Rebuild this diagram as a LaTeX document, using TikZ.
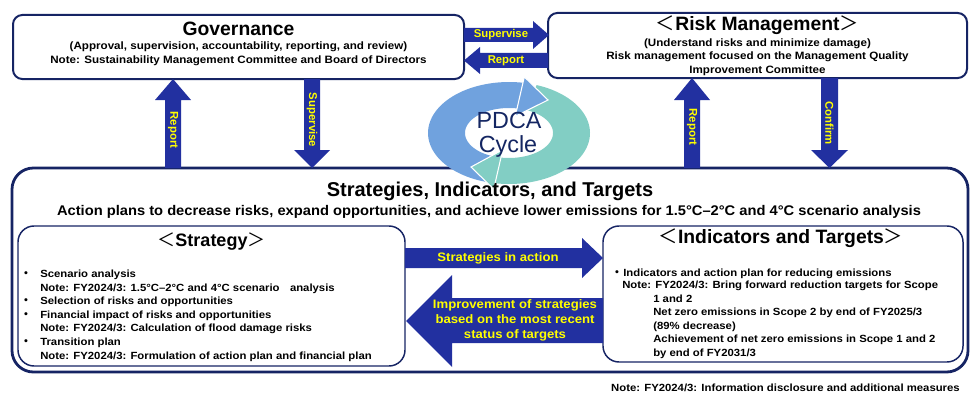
\documentclass[tikz,border=0pt]{standalone}
\usepackage{fontspec}
\setmainfont{Liberation Sans}
\newfontfamily\cjk{Noto Sans CJK JP}
\newfontfamily\bodyfont[FakeStretch=1.09]{Liberation Sans}
\newfontfamily\midfont[FakeStretch=1.07]{Liberation Sans}
\newfontfamily\subfont[FakeStretch=1.05]{Liberation Sans}
\usetikzlibrary{calc}
\definecolor{navy}{RGB}{22,36,100}
\definecolor{arrowblue}{RGB}{34,48,160}
\definecolor{arrowtext}{RGB}{255,255,0}
\definecolor{pdcablue}{RGB}{112,162,222}
\definecolor{pdcateal}{RGB}{130,206,196}
\definecolor{pdcatext}{RGB}{20,38,98}
\newcommand{\lbr}{{\cjk\mdseries ＜}}
\newcommand{\rbr}{{\cjk\mdseries ＞}}
\newcommand{\fs}[1]{\fontsize{#1}{#1}\selectfont}
\tikzset{
  outerbox/.style={draw=navy, line width=1.5pt, rounded corners=7pt, fill=white},
  bigbox/.style={draw=navy, line width=2.1pt, rounded corners=16pt, fill=white},
  innerbox/.style={draw=navy, line width=1.1pt, rounded corners=12pt, fill=white},
  blockarrow/.style={fill=arrowblue, draw=none},
  arrowlabel/.style={text=arrowtext, font=\bfseries\fs{8.5}, inner sep=0pt},
  midlabel/.style={text=arrowtext, font=\midfont\bfseries\fontsize{9.2}{11.2}\selectfont, inner sep=0pt, align=center},
  bigtitle/.style={font=\bfseries\fs{14.5}, inner sep=0pt},
  subline/.style={font=\bodyfont\bfseries\fs{8}, inner sep=0pt},
  listline/.style={font=\bodyfont\bfseries\fs{7.8}, inner sep=0pt, anchor=base west},
  bulletdot/.style={font=\cjk\bfseries\fs{8.5}, inner sep=0pt, anchor=base},
}
\begin{document}
\begin{tikzpicture}[x=0.75pt,y=-0.75pt]
\useasboundingbox (0,0) rectangle (980,403);

% ---------- boxes ----------
\draw[bigbox] (12,168) rectangle (968,372);
\draw[outerbox] (13,15) rectangle (464,79);
\draw[outerbox] (548,13) rectangle (967,78);
\draw[innerbox] (18,226) rectangle (405,366);
\draw[innerbox] (603,226) rectangle (963,362);

% ---------- horizontal arrows between top boxes ----------
\fill[blockarrow] (464,28) -- (533,28) -- (533,21) -- (549,35) -- (533,49) -- (533,42) -- (464,42) -- cycle;
\fill[blockarrow] (548,53) -- (480,53) -- (480,47) -- (464,60.5) -- (480,74) -- (480,68) -- (548,68) -- cycle;
\node[arrowlabel] (supv1) at (501,35) {Supervise};
\node[arrowlabel] (rep1) at (506,60.5) {Report};

% ---------- vertical arrows ----------
\fill[blockarrow] (165,168) -- (165,100) -- (155,100) -- (173,79) -- (191,100) -- (181,100) -- (181,168) -- cycle;
\node[arrowlabel, rotate=-90] (rep2) at (173,130) {Report};
\fill[blockarrow] (304,79) -- (320,79) -- (320,150) -- (330,150) -- (312,168) -- (294,150) -- (304,150) -- cycle;
\node[arrowlabel, rotate=-90] (supv2) at (312,120) {Supervise};
\fill[blockarrow] (684,168) -- (684,100) -- (674,100) -- (692,78) -- (710,100) -- (700,100) -- (700,168) -- cycle;
\node[arrowlabel, rotate=-90] (rep3) at (692,127) {Report};
\fill[blockarrow] (821,78) -- (838,78) -- (838,150) -- (848,150) -- (829.5,168) -- (811,150) -- (821,150) -- cycle;
\node[arrowlabel, rotate=-90] (conf) at (829.5,123) {Confirm};

% ---------- middle arrows ----------
\fill[blockarrow] (405,248) -- (582,248) -- (582,238) -- (603,258) -- (582,278) -- (582,268) -- (405,268) -- cycle;
\node[midlabel] (sia) at (498,258) {Strategies in action};
\fill[blockarrow] (603,298) -- (452,298) -- (452,275) -- (406,321) -- (452,367) -- (452,343) -- (603,343) -- cycle;
\node[midlabel] (imp) at (515,320) {Improvement of strategies\\based on the most recent\\status of targets};

% ---------- PDCA cycle ----------
\fill[pdcablue] plot[domain=100:281, samples=60] ({509+81*cos(\x)},{133+51*sin(\x)})
   -- plot[domain=281:100, samples=60] ({509+44*cos(\x)},{133+25*sin(\x)}) -- cycle;
\fill[pdcateal] plot[domain=290:461, samples=60] ({509+81*cos(\x)},{133+51*sin(\x)})
   -- plot[domain=461:290, samples=60] ({509+44*cos(\x)},{133+25*sin(\x)}) -- cycle;
\filldraw[fill=pdcateal, draw=white, line width=0.8pt, line join=miter]
   ({509+88*cos(100)},{133+57*sin(100)}) -- (471,167) -- ({509+36*cos(100)},{133+17*sin(100)}) -- cycle;
\filldraw[fill=pdcablue, draw=white, line width=0.8pt, line join=miter]
   ({509+88*cos(280)},{133+57*sin(280)}) -- (548,100) -- ({509+36*cos(280)},{133+17*sin(280)}) -- cycle;
\node[font=\fs{17.5}, text=pdcatext, inner sep=0pt] (pdca1) at (509,120) {PDCA};
\node[font=\fs{17.5}, text=pdcatext, inner sep=0pt] (pdca2) at (508,146) {Cycle};

% ---------- Governance text ----------
\node[bigtitle] (govt) at (238.5,29) {Governance};
\node[subline] (gov1) at (238.5,47) {(Approval, supervision, accountability, reporting, and review)};
\node[subline] (gov2) at (238.5,61) {Note: Sustainability Management Committee and Board of Directors};

% ---------- Risk Management text ----------
\node[bigtitle] (riskt) at (757.5,25) {\lbr Risk Management\rbr};
\node[subline] (risk1) at (757.5,43.5) {(Understand risks and minimize damage)};
\node[subline] (risk2) at (757.5,57) {Risk management focused on the Management Quality};
\node[subline] (risk3) at (757.5,70.5) {Improvement Committee};

% ---------- big box titles ----------
\node[font=\bfseries\fs{15}, inner sep=0pt] (sitt) at (490,191.5) {Strategies, Indicators, and Targets};
\node[font=\subfont\bfseries\fs{10.5}, inner sep=0pt] (sits) at (489,212) {Action plans to decrease risks, expand opportunities, and achieve lower emissions for 1.5°C–2°C and 4°C scenario analysis};

% ---------- Strategy box ----------
\node[font=\bfseries\fs{13.5}, inner sep=0pt] (strt) at (211.5,242) {\lbr Strategy\rbr};
\node[bulletdot] (sb1) at (26,277) {・};
\node[listline] (s1) at (40,277) {Scenario analysis};
\node[listline] (s2) at (40,291) {Note: FY2024/3: 1.5°C–2°C and 4°C scenario\hspace{1em}analysis};
\node[bulletdot] (sb3) at (26,304.5) {・};
\node[listline] (s3) at (40,304.5) {Selection of risks and opportunities};
\node[bulletdot] (sb4) at (26,318) {・};
\node[listline] (s4) at (40,318) {Financial impact of risks and opportunities};
\node[listline] (s5) at (40,331.5) {Note: FY2024/3: Calculation of flood damage risks};
\node[bulletdot] (sb6) at (26,345) {・};
\node[listline] (s6) at (40,345) {Transition plan};
\node[listline] (s7) at (40,359) {Note: FY2024/3: Formulation of action plan and financial plan};

% ---------- Indicators box ----------
\node[font=\bfseries\fs{14.5}, inner sep=0pt] (indt) at (781,238) {\lbr Indicators and Targets\rbr};
\node[bulletdot] (ib1) at (617,276) {・};
\node[listline] (i1) at (623,276) {Indicators and action plan for reducing emissions};
\node[listline] (i2) at (622,288.5) {Note: FY2024/3: Bring forward reduction targets for Scope};
\node[listline] (i3) at (653,302.5) {1 and 2};
\node[listline] (i4) at (653,315) {Net zero emissions in Scope 2 by end of FY2025/3};
\node[listline] (i5) at (653,329) {(89\% decrease)};
\node[listline] (i6) at (653,342.5) {Achievement of net zero emissions in Scope 1 and 2};
\node[listline] (i7) at (653,356.5) {by end of FY2031/3};

% ---------- bottom note ----------
\node[listline, anchor=base east] (bnote) at (960,391) {Note: FY2024/3: Information disclosure and additional measures};
\end{tikzpicture}
\end{document}
